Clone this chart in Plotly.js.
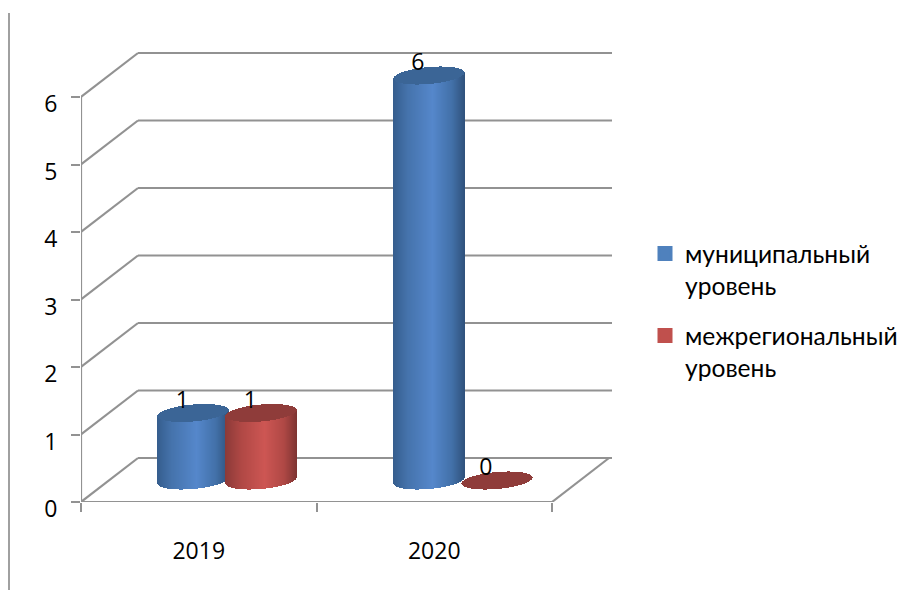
<!DOCTYPE html>
<html><head><meta charset="utf-8">
<script src="https://cdn.plot.ly/plotly-3.0.1.min.js"></script>
<style>html,body{margin:0;padding:0;background:#fff}</style></head>
<body><div id="chart" style="width:912px;height:590px"></div>
<script>
const categories = ['2019', '2020'];
const municipal = [1, 6];
const interregional = [1, 0];
const valueTicks = [0, 1, 2, 3, 4, 5, 6];
const seriesNames = ['муниципальный<br>уровень', 'межрегиональный<br>уровень'];

const W = 912, H = 590, L = 81, R = 612, T = 52, B = 502;
const PXX = 235.5, PXY = 67.5;
const xMax = (R - L) / PXX, yMax = (B - T) / PXY;
const backX = 57 / PXX, backY = 44 / PXY;
const midX = 28.5 / PXX, midY = 21.5 / PXY;
const halfW = 35.5 / PXX, semiB = 8.5 / PXY, tilt = 3 / PXY;
const sep = 34 / PXX;
const stripW = 1 / PXX;
const numFont = '"Open Sans", sans-serif';

const hex = c => [1, 3, 5].map(i => parseInt(c.slice(i, i + 2), 16));
function ramp(stops, u) {
  for (let i = 1; i < stops.length; i++) {
    if (u <= stops[i][0]) {
      const a = stops[i - 1], b = stops[i], f = (u - a[0]) / (b[0] - a[0]);
      const ca = hex(a[1]), cb = hex(b[1]);
      return 'rgb(' + ca.map((v, k) => Math.round(v + (cb[k] - v) * f)).join(',') + ')';
    }
  }
  return stops[stops.length - 1][1];
}
const styles = [
  { flat: '#4F81BD', top: '#3B6596', stops: [[-1, '#365E8E'], [-0.6, '#4573AC'], [0.1, '#5587CB'], [0.65, '#4270A8'], [1, '#30527C']] },
  { flat: '#C0504D', top: '#8F3C3A', stops: [[-1, '#8C3A38'], [-0.55, '#B04845'], [0.1, '#CD5653'], [0.65, '#AF4845'], [1, '#7E3432']] }
];

const data = [];
[municipal, interregional].forEach((vals, si) => {
  const st = styles[si], sign = si === 0 ? -1 : 1;
  const centers = categories.map((c, i) => i + 0.5 + midX + sign * sep);
  data.push({
    type: 'bar', name: seriesNames[si], legendgroup: 's' + si, x: centers, y: vals,
    base: vals.map(() => midY), width: 40 / PXX,
    marker: { color: st.flat, line: { color: st.flat, width: 3 } },
    hoverinfo: 'skip', cliponaxis: false
  });
  const bx = [], by = [], bb = [], bc = [], tx = [], ty = [], tb = [], tc = [];
  vals.forEach((v, i) => {
    const n = Math.round(2 * halfW / stripW);
    for (let k = 0; k <= n; k++) {
      const u = Math.max(-0.995, Math.min(0.995, -1 + 2 * k / n));
      const sq = Math.sqrt(1 - u * u), X = centers[i] + u * halfW, yc = midY + tilt * u;
      if (v > 0) {
        bx.push(X); bb.push(yc - semiB * sq); by.push(v + semiB * sq); bc.push(ramp(st.stops, u));
      }
      tx.push(X); tb.push(yc + v - semiB * sq); ty.push(2 * semiB * sq); tc.push(st.top);
    }
  });
  const strip = (x, y, base, color) => ({
    type: 'bar', x, y, base, width: stripW, marker: { color, line: { width: 0 } },
    showlegend: false, legendgroup: 's' + si, hoverinfo: 'skip', cliponaxis: false
  });
  data.push(strip(bx, by, bb, bc));
  data.push(strip(tx, ty, tb, tc));
});

const labelX = [], labelY = [], labelT = [];
[municipal, interregional].forEach((vals, si) => {
  const sign = si === 0 ? -1 : 1;
  vals.forEach((v, i) => {
    labelX.push(i + 0.5 + midX + sign * sep - 11 / PXX);
    labelY.push(midY + v + 11 / PXY);
    labelT.push(String(v));
  });
});
data.push({
  type: 'scatter', mode: 'text', x: labelX, y: labelY, text: labelT,
  textposition: 'middle center', textfont: { family: numFont, size: 23, color: '#000' },
  showlegend: false, hoverinfo: 'skip', cliponaxis: false
});

const grey = '#929292';
const seg = (x0, y0, x1, y1) => ({
  type: 'line', xref: 'x', yref: 'y', x0, y0, x1, y1, layer: 'below',
  line: { color: grey, width: 2.2 }
});
const shapes = [];
valueTicks.forEach(v => {
  shapes.push(seg(0, v, backX, v + backY));
  shapes.push(seg(backX, v + backY, xMax, v + backY));
});
shapes.push(seg(0, 0, 0, valueTicks[valueTicks.length - 1]));
shapes.push(seg(0, 0, categories.length, 0));
shapes.push(seg(categories.length, 0, categories.length + backX, backY));
shapes.push({
  type: 'line', xref: 'paper', yref: 'paper',
  x0: (9 - L) / (R - L), x1: (9 - L) / (R - L), y0: (B - 590) / (B - T), y1: (B - 13) / (B - T),
  line: { color: '#A0A0A0', width: 2 }
});

const layout = {
  width: W, height: H, showlegend: true, barmode: 'overlay', bargap: 0,
  paper_bgcolor: '#fff', plot_bgcolor: 'rgba(0,0,0,0)',
  margin: { l: L, r: W - R, t: T, b: H - B, pad: 0, autoexpand: false },
  font: { family: numFont, color: '#000' },
  xaxis: {
    range: [0, xMax], zeroline: false, showgrid: false, showline: false,
    tickmode: 'array', tickvals: categories.map((c, i) => i + 0.5), ticktext: categories,
    ticks: '', ticklen: 0, tickfont: { size: 23, family: numFont }, ticklabelstandoff: 33,
    minor: { tickmode: 'array', tickvals: [0, 1, 2], ticks: 'outside', ticklen: 9, tickwidth: 2, tickcolor: grey, showgrid: false }
  },
  yaxis: {
    range: [0, yMax], zeroline: false, showgrid: false, showline: false,
    tickmode: 'array', tickvals: valueTicks, ticktext: valueTicks.map(String),
    ticks: 'outside', ticklen: 9, tickwidth: 2, tickcolor: grey,
    tickfont: { size: 23, family: numFont }, ticklabelstandoff: 9, ticklabelshift: 7
  },
  legend: {
    x: (645 - L) / (R - L), xanchor: 'left', y: (B - 231) / (B - T), yanchor: 'top',
    font: { size: 24.6, family: 'Lato, "Open Sans", sans-serif', color: '#000' },
    itemwidth: 30, tracegroupgap: 15, valign: 'top', bgcolor: 'rgba(0,0,0,0)', itemclick: false, itemdoubleclick: false
  },
  shapes
};
Plotly.newPlot('chart', data, layout, { displayModeBar: false, staticPlot: true });
</script></body></html>
